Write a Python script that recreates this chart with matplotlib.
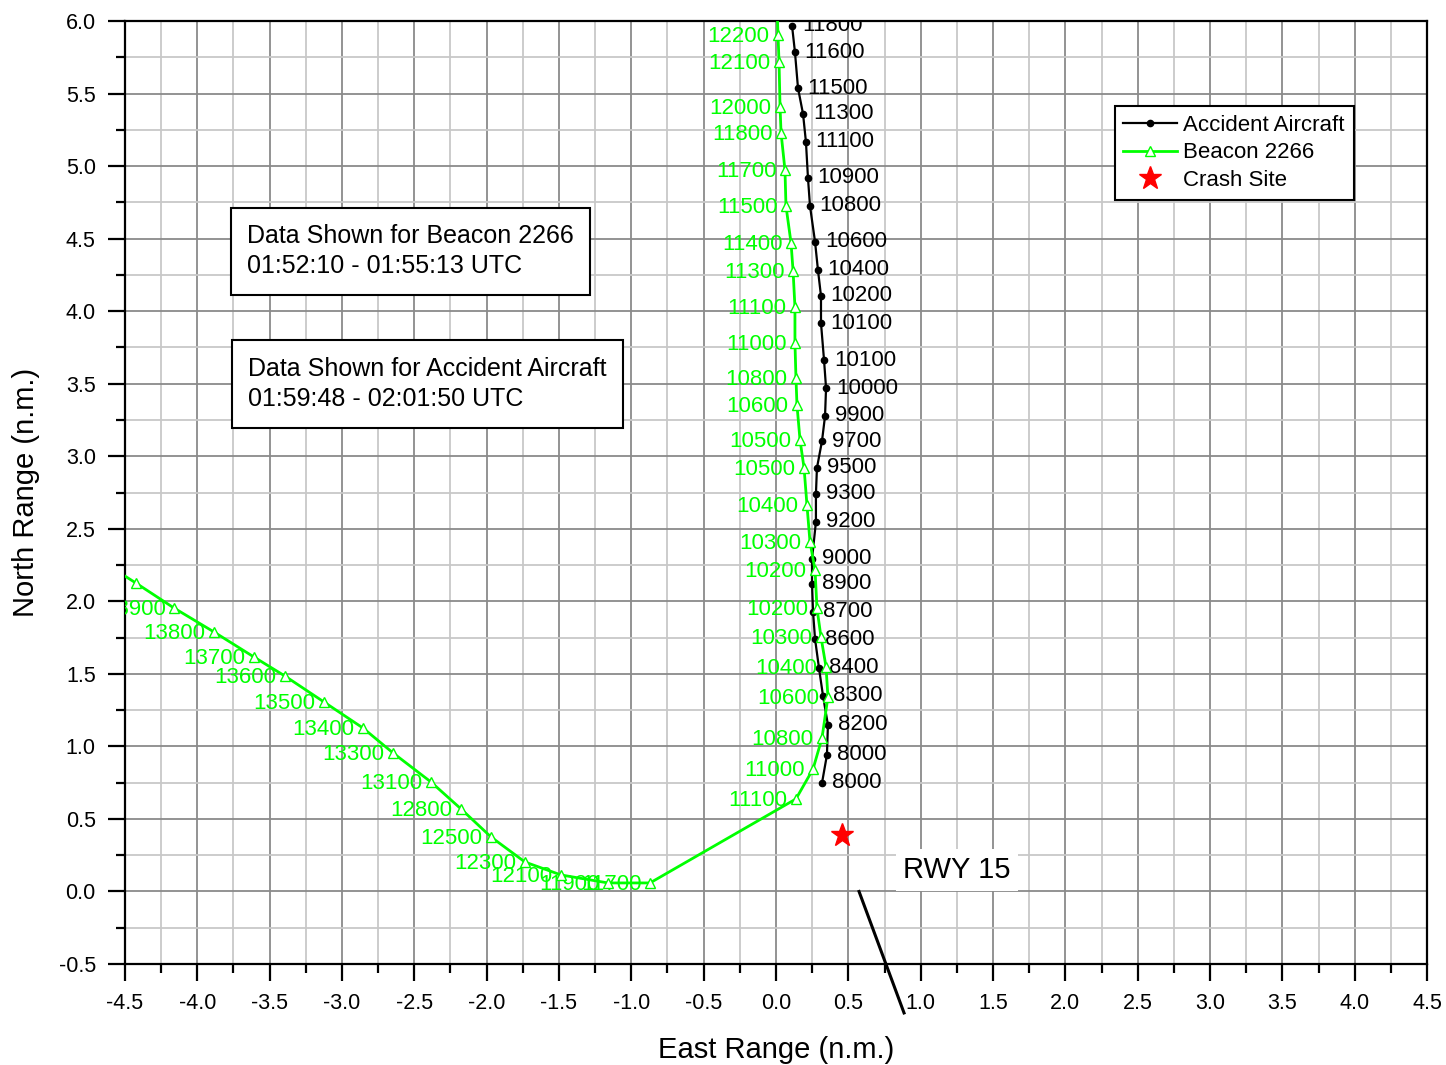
import matplotlib
matplotlib.use("Agg")
import matplotlib.pyplot as plt
from matplotlib.ticker import MultipleLocator

plt.rcParams['font.family'] = ['Liberation Sans', 'DejaVu Sans']
plt.rcParams['axes.unicode_minus'] = False

# accident aircraft track (east, north, altitude label)
acc_east = [0.111, 0.131, 0.152, 0.187, 0.207, 0.221, 0.235, 0.270, 0.290, 0.311,
            0.311, 0.332, 0.346, 0.339, 0.318, 0.283, 0.276, 0.276, 0.249, 0.249,
            0.256, 0.270, 0.297, 0.325, 0.359, 0.352, 0.318]
acc_north = [5.966, 5.786, 5.538, 5.359, 5.166, 4.918, 4.725, 4.477, 4.284, 4.105,
             3.918, 3.663, 3.470, 3.278, 3.105, 2.919, 2.740, 2.547, 2.292, 2.120,
             1.927, 1.740, 1.541, 1.348, 1.148, 0.941, 0.748]
acc_alt = ["11800", "11600", "11500", "11300", "11100", "10900", "10800", "10600", "10400", "10200",
           "10100", "10100", "10000", "9900", "9700", "9500", "9300", "9200", "9000", "8900",
           "8700", "8600", "8400", "8300", "8200", "8000", "8000"]

# beacon 2266 track
bcn_east = [0.007, 0.014, 0.021, 0.028, 0.035, 0.062, 0.069, 0.104, 0.118, 0.131,
            0.131, 0.138, 0.145, 0.166, 0.194, 0.214, 0.235, 0.270, 0.283, 0.311,
            0.346, 0.359, 0.318, 0.256, 0.138, -0.871, -1.161, -1.486, -1.735, -1.970,
            -2.177, -2.385, -2.647, -2.855, -3.124, -3.394, -3.608, -3.885, -4.161, -4.424,
            -4.620]
bcn_north = [6.090, 5.904, 5.718, 5.407, 5.228, 4.973, 4.725, 4.470, 4.277, 4.029,
             3.781, 3.539, 3.353, 3.112, 2.919, 2.664, 2.409, 2.216, 1.954, 1.754,
             1.547, 1.341, 1.058, 0.844, 0.638, 0.059, 0.059, 0.114, 0.203, 0.376,
             0.569, 0.755, 0.955, 1.127, 1.306, 1.485, 1.616, 1.789, 1.954, 2.126,
             2.250]
bcn_alt = ["", "12200", "12100", "12000", "11800", "11700", "11500", "11400", "11300", "11100",
           "11000", "10800", "10600", "10500", "10500", "10400", "10300", "10200", "10200", "10300",
           "10400", "10600", "10800", "11000", "11100", "11700", "11900", "12100", "12300", "12500",
           "12800", "13100", "13300", "13400", "13500", "13600", "13700", "13800", "13900", "",
           ""]

crash_east, crash_north = 0.456, 0.389
rwy_east = [0.574, 0.885]
rwy_north = [0.0, -0.837]

green = '#00ff00'

fig = plt.figure(figsize=(14.46, 10.65), dpi=100)
ax = fig.add_axes([0.0864, 0.0948, 0.9005, 0.8855])

ax.set_xlim(-4.5, 4.5)
ax.set_ylim(-0.5, 6.0)
ax.xaxis.set_major_locator(MultipleLocator(0.5))
ax.xaxis.set_minor_locator(MultipleLocator(0.25))
ax.yaxis.set_major_locator(MultipleLocator(0.5))
ax.yaxis.set_minor_locator(MultipleLocator(0.25))
ax.xaxis.set_major_formatter(matplotlib.ticker.FormatStrFormatter('%.1f'))
ax.yaxis.set_major_formatter(matplotlib.ticker.FormatStrFormatter('%.1f'))

ax.grid(which='major', color='#8a8a8a', lw=1.3, zorder=0)
ax.grid(which='minor', color='#c8c8c8', lw=1.3, zorder=0)
ax.set_axisbelow(True)

ax.tick_params(which='major', direction='out', length=12, width=1.6, labelsize=15.5, pad=9)
ax.tick_params(which='minor', direction='out', length=6.5, width=1.6)
for s in ax.spines.values():
    s.set_linewidth(1.6)

ax.plot(acc_east, acc_north, '-', color='black', lw=1.6, marker='o', ms=4.5,
        label='Accident Aircraft', zorder=3)
ax.plot(bcn_east, bcn_north, '-', color=green, lw=2.0, marker='^', ms=7.5,
        mfc='white', mec=green, mew=1.0, label='Beacon 2266', zorder=4)
ax.plot([crash_east], [crash_north], linestyle='none', marker='*', color='red', ms=17,
        label='Crash Site', zorder=5)

for x, y, t in zip(acc_east, acc_north, acc_alt):
    ax.annotate(t, (x, y), xytext=(7, 0), textcoords='offset points', ha='left', va='center',
                fontsize=16, color='black', annotation_clip=False, clip_on=True)
for x, y, t in zip(bcn_east, bcn_north, bcn_alt):
    if t:
        ax.annotate(t, (x, y), xytext=(-6, -1), textcoords='offset points', ha='right', va='center',
                    fontsize=16, color=green, annotation_clip=False, clip_on=True)

# runway
ax.plot(rwy_east, rwy_north, color='black', lw=2.2, clip_on=False, zorder=6)
ax.text(0.878, 0.148, 'RWY 15', fontsize=21, ha='left', va='center', zorder=6,
        bbox=dict(boxstyle='square,pad=0.25', fc='white', ec='none'))

box = dict(boxstyle='square,pad=0.65', fc='white', ec='black', lw=1.5)
ax.text(0.0937, 0.756, 'Data Shown for Beacon 2266\n01:52:10 - 01:55:13 UTC',
        transform=ax.transAxes, fontsize=18, ha='left', va='center', bbox=box,
        linespacing=1.35, zorder=7)
ax.text(0.0945, 0.615, 'Data Shown for Accident Aircraft\n01:59:48 - 02:01:50 UTC',
        transform=ax.transAxes, fontsize=18, ha='left', va='center', bbox=box,
        linespacing=1.35, zorder=7)

leg = ax.legend(loc='upper left', bbox_to_anchor=(0.760, 0.910), fontsize=16, frameon=True,
                fancybox=False, edgecolor='black', framealpha=1, numpoints=1,
                handlelength=2.4, handletextpad=0.3, labelspacing=0.3, borderpad=0.4,
                borderaxespad=0)
leg.get_frame().set_linewidth(1.5)
leg.set_zorder(8)

ax.set_xlabel('East Range (n.m.)', fontsize=21, labelpad=16)
ax.set_ylabel('North Range (n.m.)', fontsize=21, labelpad=13)

fig.savefig('out.png', dpi=100)
